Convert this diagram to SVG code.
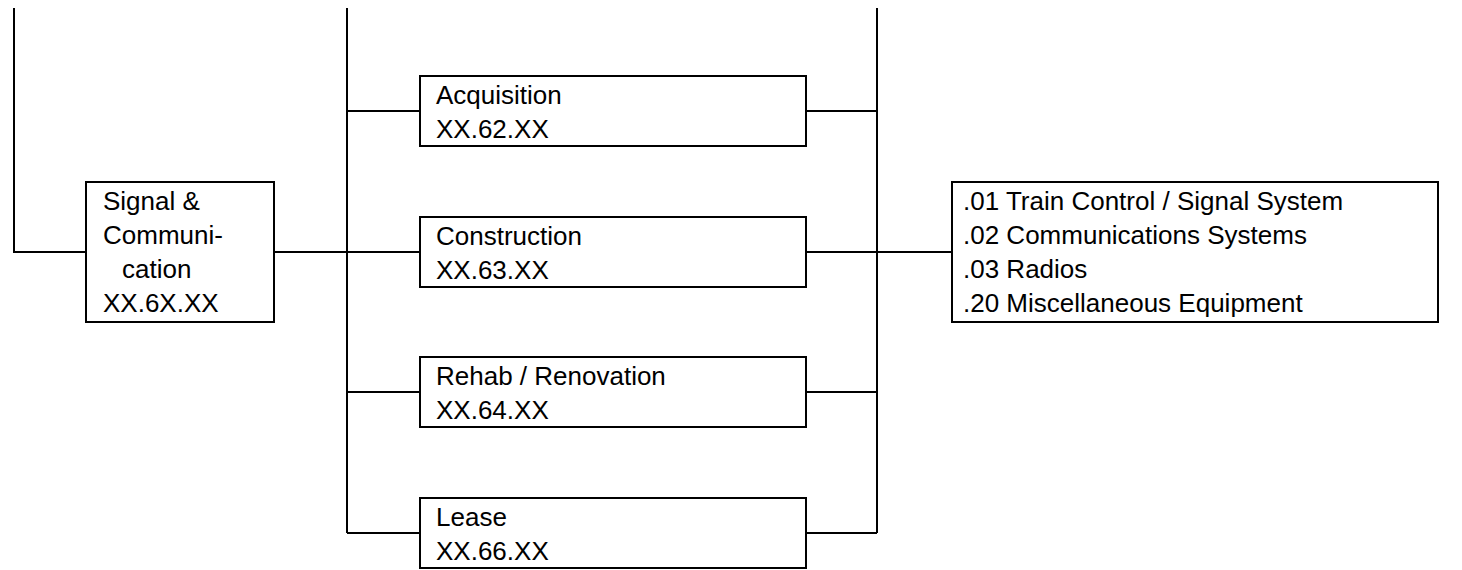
<svg xmlns="http://www.w3.org/2000/svg" width="1462" height="570" viewBox="0 0 1462 570">
<style>
.box{fill:#fff;stroke:#000;stroke-width:2}
.ln{fill:none;stroke:#000;stroke-width:2}
text{font-family:"Liberation Sans",Arial,sans-serif;font-size:26px;fill:#000}
</style>
<rect width="1462" height="570" fill="#fff"/>
<g id="connectors">
<path class="ln" d="M14,8V252H86"/>
<path class="ln" d="M274,252H347"/>
<path class="ln" d="M347,8V533"/>
<path class="ln" d="M347,111H420M347,252H420M347,392H420M347,533H420"/>
<path class="ln" d="M806,111H877M806,252H877M806,392H877M806,533H877"/>
<path class="ln" d="M877,8V533"/>
<path class="ln" d="M877,252H952"/>
</g>
<g id="signal">
<rect class="box" x="86" y="182" width="188" height="140"/>
<text x="103" y="210">Signal &amp;</text>
<text x="103" y="244">Communi-</text>
<text x="122" y="278">cation</text>
<text x="103" y="312">XX.6X.XX</text>
</g>
<g id="acquisition">
<rect class="box" x="420" y="76" width="386" height="70"/>
<text x="436" y="104">Acquisition</text>
<text x="436" y="138">XX.62.XX</text>
</g>
<g id="construction">
<rect class="box" x="420" y="217" width="386" height="70"/>
<text x="436" y="245">Construction</text>
<text x="436" y="279">XX.63.XX</text>
</g>
<g id="rehab">
<rect class="box" x="420" y="357" width="386" height="70"/>
<text x="436" y="385">Rehab / Renovation</text>
<text x="436" y="419">XX.64.XX</text>
</g>
<g id="lease">
<rect class="box" x="420" y="498" width="386" height="70"/>
<text x="436" y="526">Lease</text>
<text x="436" y="560">XX.66.XX</text>
</g>
<g id="items">
<rect class="box" x="952" y="182" width="486" height="140"/>
<text x="963" y="210">.01 Train Control / Signal System</text>
<text x="963" y="244">.02 Communications Systems</text>
<text x="963" y="278">.03 Radios</text>
<text x="963" y="312">.20 Miscellaneous Equipment</text>
</g>
</svg>
